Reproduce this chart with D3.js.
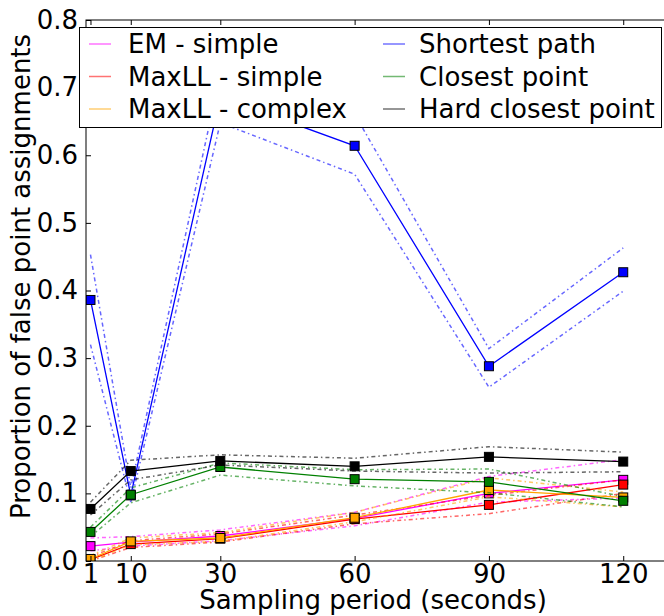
<!DOCTYPE html>
<html>
<head>
<meta charset="utf-8">
<script src="https://cdn.jsdelivr.net/npm/d3@7"></script>
<style>
  body { margin: 0; background: #fff; }
  text { font-family: "DejaVu Sans", sans-serif; }
</style>
</head>
<body>
<div id="chart"></div>
<script>
const periods = [1, 10, 30, 60, 90, 120];
const xTicks = [1, 10, 30, 60, 90, 120];
const yTicks = [0.0, 0.1, 0.2, 0.3, 0.4, 0.5, 0.6, 0.7, 0.8];

const names = ['EM - simple', 'MaxLL - simple', 'MaxLL - complex',
  'Shortest path', 'Closest point', 'Hard closest point'];
const colors = ['#ff00ff', '#ff0000', '#ffa500', '#0000ff', '#008000', '#000000'];

// mean values
const emSimple = [0.022, 0.028, 0.037, 0.063, 0.100, 0.120];
const maxllSimple = [0.002, 0.025, 0.033, 0.062, 0.083, 0.113];
const maxllComplex = [0.003, 0.029, 0.034, 0.064, 0.105, 0.094];
const shortestPath = [0.386, 0.097, 0.686, 0.614, 0.288, 0.427];
const closestPoint = [0.043, 0.098, 0.139, 0.121, 0.117, 0.089];
const hardClosest = [0.077, 0.133, 0.148, 0.140, 0.154, 0.147];

// lower / upper bounds (dash-dot)
const emLo = [0.015, 0.022, 0.030, 0.052, 0.087, 0.093];
const emHi = [0.034, 0.036, 0.046, 0.072, 0.125, 0.150];
const mlsLo = [0.000, 0.020, 0.028, 0.055, 0.070, 0.100];
const mlsHi = [0.006, 0.030, 0.040, 0.068, 0.097, 0.120];
const mlcLo = [0.000, 0.024, 0.029, 0.058, 0.095, 0.080];
const mlcHi = [0.008, 0.034, 0.042, 0.072, 0.123, 0.102];
const spLo = [0.320, 0.087, 0.648, 0.572, 0.257, 0.399];
const spHi = [0.453, 0.108, 0.720, 0.661, 0.314, 0.463];
const cpLo = [0.036, 0.086, 0.127, 0.111, 0.101, 0.080];
const cpHi = [0.050, 0.108, 0.145, 0.135, 0.136, 0.095];
const hcLo = [0.068, 0.120, 0.142, 0.133, 0.130, 0.132];
const hcHi = [0.087, 0.149, 0.157, 0.152, 0.169, 0.161];

const means = [emSimple, maxllSimple, maxllComplex, shortestPath, closestPoint, hardClosest];
const lows = [emLo, mlsLo, mlcLo, spLo, cpLo, hcLo];
const highs = [emHi, mlsHi, mlcHi, spHi, cpHi, hcHi];

const W = 664, H = 616;
const FONT = 26;
const plotLeft = 86, plotTop = 20, plotBottom = 561, plotRight = 668;

const svg = d3.select('#chart').append('svg')
  .attr('width', W)
  .attr('height', H);

const x = d3.scaleLinear().domain([0, 130]).range([plotLeft, plotRight]);
const y = d3.scaleLinear().domain([0, 0.8]).range([plotBottom, plotTop]);

svg.append('clipPath').attr('id', 'plot-clip')
  .append('rect')
  .attr('x', plotLeft).attr('y', plotTop)
  .attr('width', plotRight - plotLeft).attr('height', plotBottom - plotTop);

const plot = svg.append('g').attr('clip-path', 'url(#plot-clip)');

const line = d3.line()
  .x((d, i) => x(periods[i]))
  .y((d) => y(d));

means.forEach((vals, k) => {
  [lows[k], highs[k]].forEach((bound) => {
    plot.append('path')
      .attr('d', line(bound))
      .attr('fill', 'none')
      .attr('stroke', colors[k])
      .attr('stroke-opacity', 0.6)
      .attr('stroke-width', 1.5)
      .attr('stroke-dasharray', '4,3,1.5,3');
  });
  plot.append('path')
    .attr('d', line(vals))
    .attr('fill', 'none')
    .attr('stroke', colors[k])
    .attr('stroke-width', 1.3);
  plot.selectAll(null)
    .data(vals)
    .enter().append('rect')
    .attr('x', (d, i) => x(periods[i]) - 4.5)
    .attr('y', (d) => y(d) - 4.5)
    .attr('width', 9)
    .attr('height', 9)
    .attr('fill', colors[k])
    .attr('stroke', '#000')
    .attr('stroke-width', 1);
});

// axes, ticks inward like the old matplotlib style
const xBottom = d3.axisBottom(x).tickValues(xTicks).tickSize(-5).tickPadding(4)
  .tickFormat(d3.format('d'));
const xTop = d3.axisTop(x).tickValues(xTicks).tickSize(-5).tickFormat('');
const yLeft = d3.axisLeft(y).tickValues(yTicks).tickSize(-5).tickPadding(8)
  .tickFormat(d3.format('.1f'));

const gx = svg.append('g')
  .attr('transform', `translate(0,${plotBottom})`)
  .call(xBottom);
const gxt = svg.append('g')
  .attr('transform', `translate(0,${plotTop})`)
  .call(xTop);
const gy = svg.append('g')
  .attr('transform', `translate(${plotLeft},0)`)
  .call(yLeft);

[gx, gxt, gy].forEach((g) => {
  g.select('.domain').remove();
  g.selectAll('line').attr('stroke', '#000');
  g.selectAll('text')
    .attr('fill', '#000')
    .style('font-size', FONT + 'px');
});
gx.selectAll('text').attr('dy', '0.71em');

// frame
svg.append('rect')
  .attr('x', plotLeft).attr('y', plotTop)
  .attr('width', plotRight - plotLeft).attr('height', plotBottom - plotTop)
  .attr('fill', 'none')
  .attr('stroke', '#000')
  .attr('stroke-width', 1);

svg.append('text')
  .attr('x', (plotLeft + W) / 2 - 2)
  .attr('y', 609)
  .attr('text-anchor', 'middle')
  .style('font-size', FONT + 'px')
  .text('Sampling period (seconds)');

svg.append('text')
  .attr('transform', `translate(30,${(plotTop + plotBottom) / 2 - 14}) rotate(-90)`)
  .attr('text-anchor', 'middle')
  .style('font-size', FONT + 'px')
  .text('Proportion of false point assignments');

// legend, 2 columns
const legend = svg.append('g');
legend.append('rect')
  .attr('x', 79.5).attr('y', 27.5)
  .attr('width', 582).attr('height', 100)
  .attr('fill', '#fff')
  .attr('stroke', '#000')
  .attr('stroke-width', 1);

names.forEach((name, k) => {
  let col = Math.floor(k / 3);
  let row = k % 3;
  let hx = col === 0 ? 89 : 383;
  let tx = col === 0 ? 128 : 419;
  let cy = 44 + row * 32.5;
  legend.append('line')
    .attr('x1', hx).attr('x2', hx + 22)
    .attr('y1', cy).attr('y2', cy)
    .attr('stroke', colors[k])
    .attr('stroke-opacity', 0.55)
    .attr('stroke-width', 1.5);
  legend.append('text')
    .attr('x', tx)
    .attr('y', cy)
    .attr('dy', '0.35em')
    .style('font-size', FONT + 'px')
    .text(name);
});
</script>
</body>
</html>
